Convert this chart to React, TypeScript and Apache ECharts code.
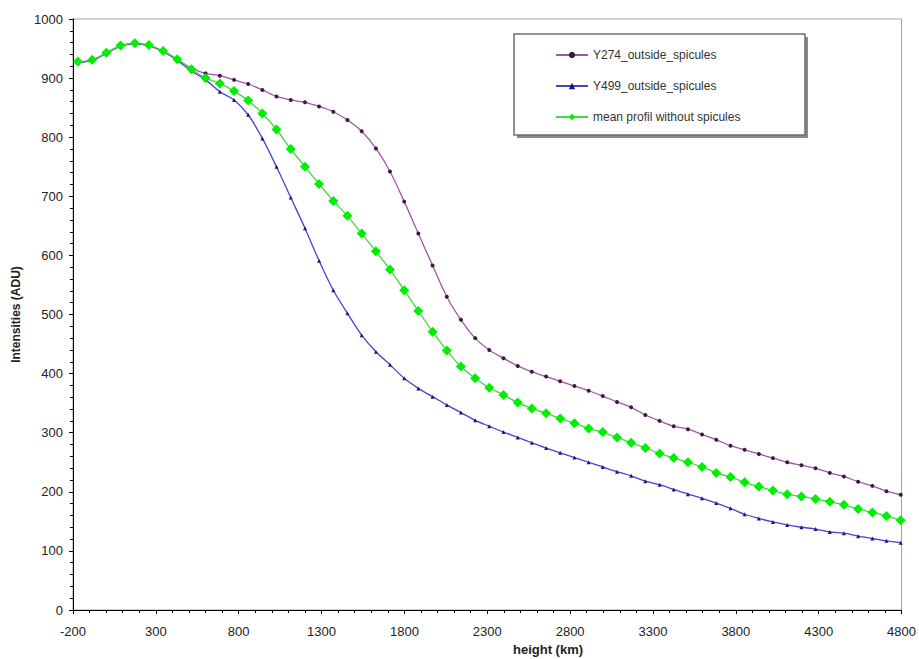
import React, { useEffect, useRef } from "react";
import * as echarts from "echarts";

const heights = [
  -170, -84, 1, 87, 173, 258, 344, 429, 515, 600, 686, 772, 857, 943, 1028, 1114, 1200, 1285, 1371, 1456,
  1542, 1628, 1713, 1799, 1884, 1970, 2056, 2141, 2227, 2312, 2398, 2484, 2569, 2655, 2740, 2826, 2912, 2997,
  3083, 3168, 3254, 3340, 3425, 3511, 3596, 3682, 3768, 3853, 3939, 4024, 4110, 4196, 4281, 4367, 4452, 4538,
  4624, 4709, 4795,
];

const y274 = [
  926, 930, 942, 954, 958, 955, 945, 931, 917, 908, 904, 897, 890, 880, 869, 863, 859, 852, 843, 829,
  810, 781, 742, 691, 637, 583, 530, 491, 460, 440, 426, 413, 403, 395, 387, 379, 371, 362,
  352, 343, 330, 320, 311, 306, 297, 288, 278, 271, 264, 257, 250, 245, 240, 232, 226, 217,
  210, 201, 195,
];

const y499 = [
  927, 930, 942, 954, 958, 955, 945, 930, 912, 897, 877, 863, 838, 798, 750, 698, 646, 591, 541, 502,
  465, 437, 415, 392, 375, 361, 347, 334, 321, 311, 301, 292, 283, 274, 266, 258, 250, 242,
  234, 227, 218, 212, 204, 196, 189, 181, 172, 162, 155, 149, 144, 140, 137, 132, 130, 125,
  121, 117, 114,
];

const meanProfile = [
  928, 931, 943, 955, 959, 956, 946, 932, 915, 900, 891, 878, 862, 840, 813, 780, 750, 721, 692, 667,
  637, 607, 576, 541, 506, 471, 439, 412, 392, 376, 364, 351, 341, 333, 324, 316, 307, 301,
  292, 283, 274, 265, 257, 250, 242, 232, 225, 216, 209, 202, 196, 192, 188, 183, 178, 171,
  165, 159, 152,
];

const seriesNames = ["Y274_outside_spicules", "Y499_outside_spicules", "mean profil without spicules"];

const FONT = '"Liberation Sans", Arial, sans-serif';

function pairs(ys: number[]) {
  return heights.map((h, i) => [h, ys[i]]);
}

export default function App() {
  const ref = useRef<HTMLDivElement>(null);
  useEffect(() => {
    if (!ref.current) return;
    const chart = echarts.init(ref.current, null, { renderer: "svg" });
    const axisCommon = {
      axisLine: { show: true, onZero: false, lineStyle: { color: "#000", width: 1 } },
      axisTick: { show: true, length: 4, lineStyle: { color: "#000" } },
      minorTick: { show: true, splitNumber: 5, length: 3, lineStyle: { color: "#000" } },
      splitLine: { show: false },
      minorSplitLine: { show: false },
    };
    const plain = (v: number) => String(v);
    chart.setOption({
      animation: false,
      backgroundColor: "#fff",
      grid: {
        left: 73,
        right: 13,
        top: 19,
        bottom: 49,
        show: true,
        borderColor: "#a0a0a0",
        borderWidth: 1,
        backgroundColor: "transparent",
      },
      xAxis: {
        type: "value",
        min: -200,
        max: 4800,
        interval: 500,
        ...axisCommon,
        axisLabel: { fontFamily: FONT, fontSize: 13, color: "#222", margin: 15, formatter: plain },
      },
      yAxis: {
        type: "value",
        min: 0,
        max: 1000,
        interval: 100,
        ...axisCommon,
        name: "Intensities (ADU)",
        nameLocation: "middle",
        nameGap: 51,
        nameTextStyle: { fontFamily: FONT, fontSize: 12, fontWeight: "bold", color: "#222" },
        axisLabel: { fontFamily: FONT, fontSize: 13, color: "#222", margin: 10, formatter: plain },
      },
      legend: {
        orient: "vertical",
        left: 550,
        top: 44,
        itemWidth: 32,
        itemHeight: 8,
        itemGap: 19,
        z: 10,
        textStyle: { fontFamily: FONT, fontSize: 12, color: "#333" },
        data: seriesNames,
      },
      graphic: [
        {
          type: "rect",
          z: 3,
          shape: { x: 517, y: 37, width: 291, height: 101 },
          style: { fill: "#8a8a8a" },
        },
        {
          type: "rect",
          z: 4,
          shape: { x: 514, y: 34, width: 291, height: 101 },
          style: { fill: "#fff", stroke: "#6e6e6e", lineWidth: 1.5 },
        },
        {
          type: "text",
          x: 548,
          y: 649,
          style: {
            text: "height (km)",
            font: `bold 13px ${FONT}`,
            fill: "#222",
            align: "center",
            verticalAlign: "middle",
          },
        },
      ],
      series: [
        {
          name: seriesNames[0],
          type: "line",
          data: pairs(y274),
          smooth: 0.3,
          symbol: "circle",
          symbolSize: 4,
          lineStyle: { color: "#a357a3", width: 1.3 },
          itemStyle: { color: "#3d1a3d" },
          z: 2,
        },
        {
          name: seriesNames[1],
          type: "line",
          data: pairs(y499),
          smooth: 0.3,
          symbol: "triangle",
          symbolSize: 4,
          lineStyle: { color: "#4444d4", width: 1.3 },
          itemStyle: { color: "#1b1b6b" },
          z: 2,
        },
        {
          name: seriesNames[2],
          type: "line",
          data: pairs(meanProfile),
          smooth: 0.3,
          symbol: "diamond",
          symbolSize: 10,
          lineStyle: { color: "#40d840", width: 1.3 },
          itemStyle: { color: "#00ee00" },
          z: 3,
        },
      ],
    });
    return () => chart.dispose();
  }, []);
  return (
    <div
      ref={ref}
      style={{ position: "fixed", left: 0, top: 0, width: 919, height: 659, background: "#fff" }}
    />
  );
}
